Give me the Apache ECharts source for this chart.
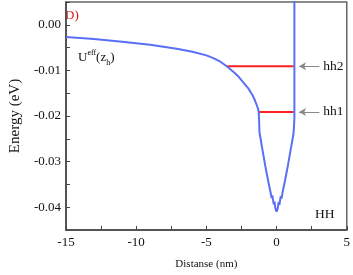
<!DOCTYPE html>
<html>
<head>
<meta charset="utf-8">
<script src="https://cdn.jsdelivr.net/npm/echarts@6/dist/echarts.min.js"></script>
<style>html,body{margin:0;padding:0;background:#fff;}#c{width:353px;height:275px;}</style>
</head>
<body>
<div id="c"></div>
<script>
// ---- data ----
const curveX = [-15, -13, -11, -9, -7, -6, -5, -4.5, -4, -3.5, -3, -2.7, -2.4, -2, -1.7, -1.55, -1.4, -1.32, -1.27, -1.24, -1.22, -1.0, -0.8, -0.6, -0.45, -0.35, -0.3, -0.2, -0.15, -0.08, 0, 0.08, 0.15, 0.2, 0.3, 0.35, 0.45, 0.6, 0.8, 1.0, 1.2, 1.24, 1.27, 1.27];
const curveY = [-0.0027, -0.0031, -0.0037, -0.0044, -0.0053, -0.0059, -0.0067, -0.0073, -0.0081, -0.0092, -0.0105, -0.0114, -0.0125, -0.0140, -0.0155, -0.0165, -0.0177, -0.0184, -0.0192, -0.0212, -0.0235, -0.0275, -0.0310, -0.0342, -0.0364, -0.0380, -0.0374, -0.0394, -0.0388, -0.0403, -0.0410, -0.0403, -0.0389, -0.0395, -0.0376, -0.0381, -0.0364, -0.0342, -0.0310, -0.0275, -0.0240, -0.0225, -0.0205, 0.0100];
const hhNames = ['hh2', 'hh1'];
const hhLevels = [-0.0091, -0.0191];
const hhStartX = [-3.53, -1.27];
const hhEndX = [1.22, 1.22];
const arrowFromX = 1.6;
const arrowToX = 3.05;
const xTicks = [-15, -10, -5, 0, 5];
const yTicks = [-0.04, -0.03, -0.02, -0.01, 0.00];

const FONT = 'Liberation Serif';
const chart = echarts.init(document.getElementById('c'), null, {renderer: 'canvas'});

const curve = curveX.map((x, i) => [x, curveY[i]]);
const hhSeries = hhNames.map((n, i) => ({
  type: 'line',
  name: n,
  data: [[hhStartX[i], hhLevels[i]], [hhEndX[i], hhLevels[i]]],
  symbol: 'none',
  lineStyle: {color: '#ff2020', width: 2},
  z: 3,
  animation: false,
  markLine: {
    silent: true,
    animation: false,
    symbol: ['arrow', 'none'],
    symbolSize: [6, 7],
    lineStyle: {color: '#888', width: 1, type: 'solid'},
    itemStyle: {color: '#222'},
    label: {show: true, position: 'end', distance: 4, formatter: n, color: '#111', fontFamily: FONT, fontSize: 13.5},
    data: [[{coord: [arrowFromX, hhLevels[i]]}, {coord: [arrowToX, hhLevels[i]]}]]
  }
}));

chart.setOption({
  animation: false,
  grid: {left: 59, right: 6, top: 2, bottom: 40, show: true, borderColor: '#666', borderWidth: 1.5, backgroundColor: 'transparent'},
  xAxis: {
    type: 'value', min: -15, max: 5, interval: 2.5,
    name: 'Distanse (nm)', nameLocation: 'middle', nameGap: 29,
    nameTextStyle: {fontFamily: FONT, fontSize: 11, color: '#111'},
    axisLine: {show: true, onZero: false, lineStyle: {color: '#444', width: 1.5}},
    axisTick: {show: true, inside: true, length: 4, lineStyle: {color: '#444'}},
    axisLabel: {
      fontFamily: FONT, fontSize: 13, color: '#111', margin: 6,
      formatter: v => { const k = Math.round(v * 10); return xTicks.some(t => Math.round(t * 10) === k) ? String(Math.round(v)) : ''; }
    },
    splitLine: {show: false}
  },
  yAxis: {
    type: 'value', min: -0.045, max: 0.005, interval: 0.005,
    name: 'Energy (eV)', nameLocation: 'middle', nameGap: 41,
    nameTextStyle: {fontFamily: FONT, fontSize: 15, color: '#111'},
    axisLine: {show: true, onZero: false, lineStyle: {color: '#444', width: 1.5}},
    axisTick: {show: true, inside: true, length: 4, lineStyle: {color: '#444'}},
    axisLabel: {
      fontFamily: FONT, fontSize: 13, color: '#111', margin: 5,
      formatter: v => { const k = Math.round(v * 1000); return yTicks.some(t => Math.round(t * 1000) === k) ? (k / 1000).toFixed(2) : ''; }
    },
    splitLine: {show: false}
  },
  series: [
    {type: 'line', name: 'U', data: curve, symbol: 'none', clip: true,
     lineStyle: {color: '#5a6ff7', width: 2}, z: 4}
  ].concat(hhSeries),
  graphic: [
    {type: 'text', left: 65, top: 9, style: {text: 'D)', fill: '#e01010', font: '13px "Liberation Serif"'}},
    {type: 'text', left: 315, top: 207, style: {text: 'HH', fill: '#111', font: '13.5px "Liberation Serif"'}},
    {type: 'text', left: 78, top: 49, style: {
      text: '{a|U}{s|eff}{a|(z}{b|h}{a|)}',
      rich: {
        a: {fontFamily: FONT, fontSize: 13, lineHeight: 18, fill: '#111', color: '#111', verticalAlign: 'middle'},
        s: {fontFamily: FONT, fontSize: 8, lineHeight: 18, color: '#111', verticalAlign: 'top', padding: [0, 0, 0, 0]},
        b: {fontFamily: FONT, fontSize: 8, lineHeight: 18, color: '#111', verticalAlign: 'bottom'}
      }
    }}
  ]
});
</script>
</body>
</html>
